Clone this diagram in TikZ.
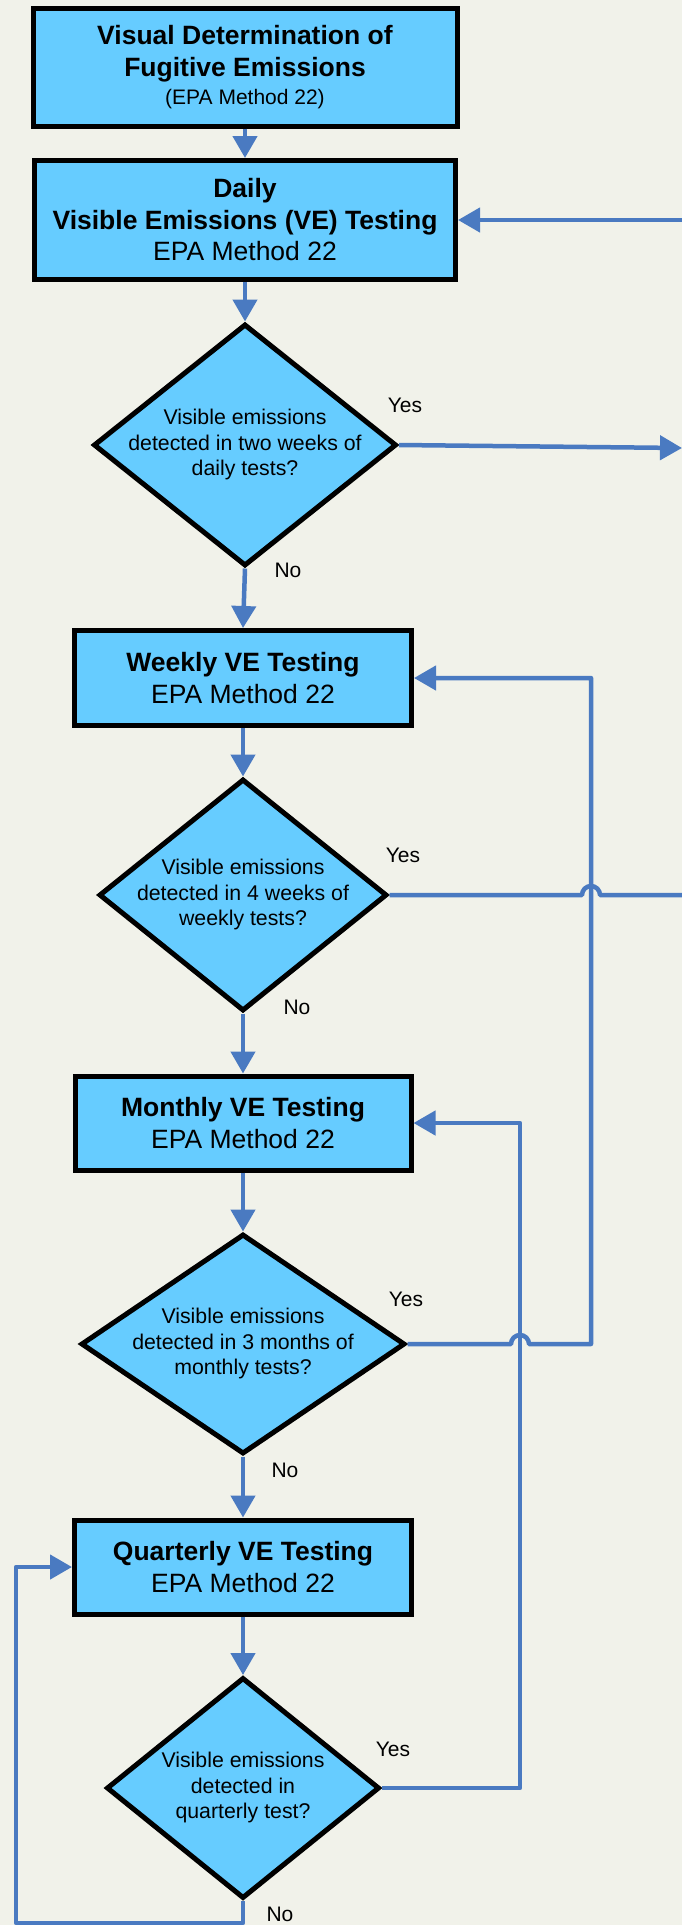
\documentclass[tikz,border=0pt]{standalone}
\usepackage{fontspec}
\setmainfont{Liberation Sans}
\usetikzlibrary{shapes.geometric, arrows.meta}

\definecolor{boxblue}{RGB}{102,204,255}
\definecolor{lineblue}{RGB}{74,122,193}
\definecolor{paper}{RGB}{241,242,234}

% question text inside a diamond, kept out of the shape size
\newcommand{\qtext}[1]{\smash{\makebox[0pt]{\raisebox{-0.25em}{\begin{tabular}{@{}c@{}}#1\end{tabular}}}}}

\tikzset{
  box/.style={rectangle, draw=black, line width=5pt, fill=boxblue, inner sep=0pt,
    align=center, font=\fontsize{26.5}{31.5}\selectfont},
  decision/.style={diamond, draw=black, line width=5pt, fill=boxblue, inner sep=0pt,
    font=\fontsize{21.3}{25.5}\selectfont},
  wire/.style={draw=lineblue, line width=4.5pt, line join=round},
  flow/.style={wire, -{Triangle[length=22pt, width=24pt]}},
  answer/.style={inner sep=0pt, font=\fontsize{21}{25}\selectfont}
}

\begin{document}
\begin{tikzpicture}[x=1pt, y=-1pt]
        % Background
        \fill[paper] (0,0) rectangle (682,1925);
        \useasboundingbox (0,0) rectangle (682,1925);

        % Nodes
        \node[box, minimum width=424pt, minimum height=118pt] (start) at (245,67) {\textbf{Visual Determination of}\\ \textbf{Fugitive Emissions}\\[-3.5pt] {\fontsize{21}{25}\selectfont (EPA Method 22)}};
        \node[box, minimum width=421pt, minimum height=119pt] (daily) at (245,220) {\textbf{Daily}\\ \textbf{Visible Emissions (VE) Testing}\\ EPA Method 22};
        \node[decision, minimum width=303pt, minimum height=242pt] (qdaily) at (245,445) {\qtext{Visible emissions\\ detected in two weeks of\\ daily tests?}};
        \node[box, minimum width=337pt, minimum height=95pt] (weekly) at (243,678) {\textbf{Weekly VE Testing}\\ EPA Method 22};
        \node[decision, minimum width=288pt, minimum height=232pt] (qweekly) at (243,895) {\qtext{Visible emissions\\ detected in 4 weeks of\\ weekly tests?}};
        \node[box, minimum width=336pt, minimum height=94pt] (monthly) at (243,1123) {\textbf{Monthly VE Testing}\\ EPA Method 22};
        \node[decision, minimum width=324pt, minimum height=220pt] (qmonthly) at (243,1344) {\qtext{Visible emissions\\ detected in 3 months of\\ monthly tests?}};
        \node[box, minimum width=337pt, minimum height=94pt] (quarterly) at (243,1567) {\textbf{Quarterly VE Testing}\\ EPA Method 22};
        \node[decision, minimum width=273pt, minimum height=221pt] (qquarterly) at (243,1788) {\qtext{Visible emissions\\ detected in\\ quarterly test?}};

        % Answers
        \node[answer] (yes1) at (405,405) {Yes};
        \node[answer] (no1) at (288,570) {No};
        \node[answer] (yes2) at (403,855) {Yes};
        \node[answer] (no2) at (297,1007) {No};
        \node[answer] (yes3) at (406,1299) {Yes};
        \node[answer] (no3) at (285,1470) {No};
        \node[answer] (yes4) at (393,1749) {Yes};
        \node[answer] (no4) at (280,1914) {No};

        % Free ends at the right border
        \coordinate (backdaily) at (682,220);
        \coordinate (outdaily) at (682,448);
        \coordinate (outweekly) at (682,895);

        % Lines
        \draw[flow] (start.south) -- (daily.north);
        \draw[flow] (backdaily) -- (daily.east);
        \draw[flow] (daily.south) -- (qdaily.north);
        \draw[flow] (qdaily.east) -- (outdaily);
        \draw[flow] (qdaily.south) -- (weekly.north);
        \draw[flow] (weekly.south) -- (qweekly.north);
        \draw[wire] (qweekly.east) -- (582,895) arc[start angle=180, end angle=0, radius=9pt] -- (outweekly);
        \draw[flow] (qweekly.south) -- (monthly.north);
        \draw[flow] (monthly.south) -- (qmonthly.north);
        \draw[flow] (qmonthly.east) -- (511,1344) arc[start angle=180, end angle=0, radius=9pt] -- (591,1344) |- (weekly.east);
        \draw[flow] (qmonthly.south) -- (quarterly.north);
        \draw[flow] (quarterly.south) -- (qquarterly.north);
        \draw[flow] (qquarterly.east) -- (520,1788) |- (monthly.east);
        \draw[flow] (qquarterly.south) -- (243,1923) -- (16,1923) |- (quarterly.west);
    \end{tikzpicture}
\end{document}
